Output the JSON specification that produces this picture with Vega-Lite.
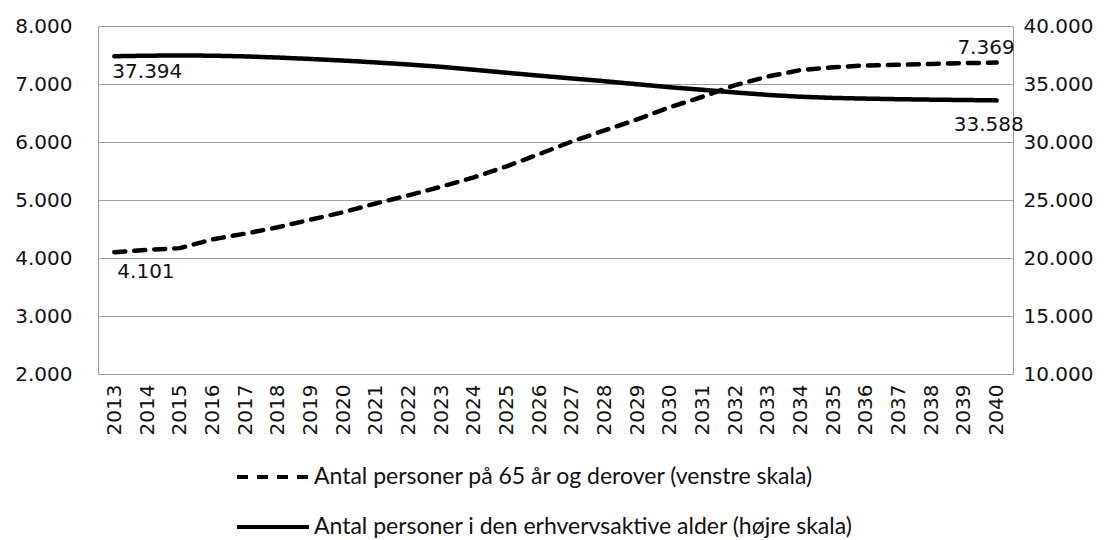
{
  "$schema": "https://vega.github.io/schema/vega-lite/v6.json",
  "autosize": {"type": "none"},
  "padding": {"left": 98, "top": 26, "right": 102, "bottom": 166},
  "width": 915,
  "height": 348,
  "background": "white",
  "config": {
    "locale": {"number": {"decimal": ",", "thousands": ".", "grouping": [3], "currency": ["", " kr."]}},
    "view": {"stroke": "#999999", "strokeWidth": 1},
    "font": "DejaVu Sans",
    "axis": {"labelFont": "DejaVu Sans", "labelFontSize": 20, "labelColor": "#111111", "domain": false, "ticks": false, "title": null}
  },
  "data": {
    "values": [
      {"year": "2013", "series": "A", "value": 4101},
      {"year": "2014", "series": "A", "value": 4140},
      {"year": "2015", "series": "A", "value": 4170},
      {"year": "2016", "series": "A", "value": 4320},
      {"year": "2017", "series": "A", "value": 4420},
      {"year": "2018", "series": "A", "value": 4530},
      {"year": "2019", "series": "A", "value": 4660},
      {"year": "2020", "series": "A", "value": 4790},
      {"year": "2021", "series": "A", "value": 4940},
      {"year": "2022", "series": "A", "value": 5080},
      {"year": "2023", "series": "A", "value": 5230},
      {"year": "2024", "series": "A", "value": 5390},
      {"year": "2025", "series": "A", "value": 5580},
      {"year": "2026", "series": "A", "value": 5790},
      {"year": "2027", "series": "A", "value": 6010},
      {"year": "2028", "series": "A", "value": 6200},
      {"year": "2029", "series": "A", "value": 6390},
      {"year": "2030", "series": "A", "value": 6600},
      {"year": "2031", "series": "A", "value": 6780},
      {"year": "2032", "series": "A", "value": 6980},
      {"year": "2033", "series": "A", "value": 7130},
      {"year": "2034", "series": "A", "value": 7240},
      {"year": "2035", "series": "A", "value": 7290},
      {"year": "2036", "series": "A", "value": 7320},
      {"year": "2037", "series": "A", "value": 7330},
      {"year": "2038", "series": "A", "value": 7345},
      {"year": "2039", "series": "A", "value": 7360},
      {"year": "2040", "series": "A", "value": 7369},
      {"year": "2013", "series": "B", "value": 37394},
      {"year": "2014", "series": "B", "value": 37440},
      {"year": "2015", "series": "B", "value": 37460},
      {"year": "2016", "series": "B", "value": 37440},
      {"year": "2017", "series": "B", "value": 37380},
      {"year": "2018", "series": "B", "value": 37280},
      {"year": "2019", "series": "B", "value": 37160},
      {"year": "2020", "series": "B", "value": 37020},
      {"year": "2021", "series": "B", "value": 36860},
      {"year": "2022", "series": "B", "value": 36680},
      {"year": "2023", "series": "B", "value": 36480},
      {"year": "2024", "series": "B", "value": 36230},
      {"year": "2025", "series": "B", "value": 35970},
      {"year": "2026", "series": "B", "value": 35720},
      {"year": "2027", "series": "B", "value": 35480},
      {"year": "2028", "series": "B", "value": 35240},
      {"year": "2029", "series": "B", "value": 34980},
      {"year": "2030", "series": "B", "value": 34720},
      {"year": "2031", "series": "B", "value": 34500},
      {"year": "2032", "series": "B", "value": 34270},
      {"year": "2033", "series": "B", "value": 34060},
      {"year": "2034", "series": "B", "value": 33900},
      {"year": "2035", "series": "B", "value": 33800},
      {"year": "2036", "series": "B", "value": 33740},
      {"year": "2037", "series": "B", "value": 33690},
      {"year": "2038", "series": "B", "value": 33650},
      {"year": "2039", "series": "B", "value": 33620},
      {"year": "2040", "series": "B", "value": 33588}
    ]
  },
  "transform": [
    {"lookup": "series", "from": {"data": {"values": [
      {"series": "A", "name": "Antal personer på 65 år og derover (venstre skala)"},
      {"series": "B", "name": "Antal personer i den erhvervsaktive alder (højre skala)"}
    ]}, "key": "series", "fields": ["name"]}}
  ],
  "encoding": {
    "x": {"field": "year", "type": "ordinal", "scale": {"type": "point", "padding": 0.5},
      "axis": {"labelAngle": -90, "labelAlign": "right", "labelBaseline": "middle", "labelPadding": 10, "grid": false}}
  },
  "layer": [
    {
      "layer": [
        {
          "transform": [{"filter": "datum.series === 'A'"}],
          "mark": {"type": "line", "color": "black", "strokeWidth": 4.5, "strokeCap": "round"},
          "encoding": {
            "y": {"field": "value", "type": "quantitative", "scale": {"domain": [2000, 8000], "nice": false, "zero": false},
              "axis": {"values": [2000, 3000, 4000, 5000, 6000, 7000, 8000], "format": ",d", "grid": true, "gridColor": "#a0a0a0", "gridWidth": 1.2, "labelPadding": 26, "orient": "left"}},
            "strokeDash": {"field": "name", "type": "nominal",
              "scale": {"domain": ["Antal personer på 65 år og derover (venstre skala)", "Antal personer i den erhvervsaktive alder (højre skala)"], "range": [[11, 9], [1, 0]]},
              "legend": {"orient": "none", "legendX": 137, "legendY": 413, "title": null, "symbolType": "stroke", "symbolSize": 5184, "symbolStrokeWidth": 4, "symbolStrokeColor": "black", "labelFont": "Lato", "labelFontSize": 23, "labelColor": "#111111", "labelOffset": 3, "rowPadding": -31, "labelLimit": 800}}
          }
        },
        {
          "transform": [{"filter": "datum.series === 'A' && (datum.year === '2013')"}],
          "mark": {"type": "text", "align": "left", "baseline": "middle", "dx": 3, "dy": 20, "fontSize": 20, "font": "DejaVu Sans", "color": "#111111"},
          "encoding": {
            "y": {"field": "value", "type": "quantitative"},
            "text": {"field": "value", "type": "quantitative", "format": ",d"}
          }
        },
        {
          "transform": [{"filter": "datum.series === 'A' && (datum.year === '2040')"}],
          "mark": {"type": "text", "align": "right", "baseline": "middle", "dx": 18, "dy": -15, "fontSize": 20, "font": "DejaVu Sans", "color": "#111111"},
          "encoding": {
            "y": {"field": "value", "type": "quantitative"},
            "text": {"field": "value", "type": "quantitative", "format": ",d"}
          }
        }
      ]
    },
    {
      "layer": [
        {
          "transform": [{"filter": "datum.series === 'B'"}],
          "mark": {"type": "line", "color": "black", "strokeWidth": 4.5, "strokeCap": "round"},
          "encoding": {
            "y": {"field": "value", "type": "quantitative", "scale": {"domain": [10000, 40000], "nice": false, "zero": false},
              "axis": {"values": [10000, 15000, 20000, 25000, 30000, 35000, 40000], "format": ",d", "grid": false, "labelPadding": 10, "orient": "right"}},
            "strokeDash": {"field": "name", "type": "nominal"}
          }
        },
        {
          "transform": [{"filter": "datum.series === 'B' && (datum.year === '2013')"}],
          "mark": {"type": "text", "align": "left", "baseline": "middle", "dx": -2, "dy": 16, "fontSize": 20, "font": "DejaVu Sans", "color": "#111111"},
          "encoding": {
            "y": {"field": "value", "type": "quantitative"},
            "text": {"field": "value", "type": "quantitative", "format": ",d"}
          }
        },
        {
          "transform": [{"filter": "datum.series === 'B' && (datum.year === '2040')"}],
          "mark": {"type": "text", "align": "right", "baseline": "middle", "dx": 27, "dy": 25, "fontSize": 20, "font": "DejaVu Sans", "color": "#111111"},
          "encoding": {
            "y": {"field": "value", "type": "quantitative"},
            "text": {"field": "value", "type": "quantitative", "format": ",d"}
          }
        }
      ],
      "resolve": {"scale": {"y": "shared"}}
    }
  ],
  "resolve": {"scale": {"y": "independent"}}
}
